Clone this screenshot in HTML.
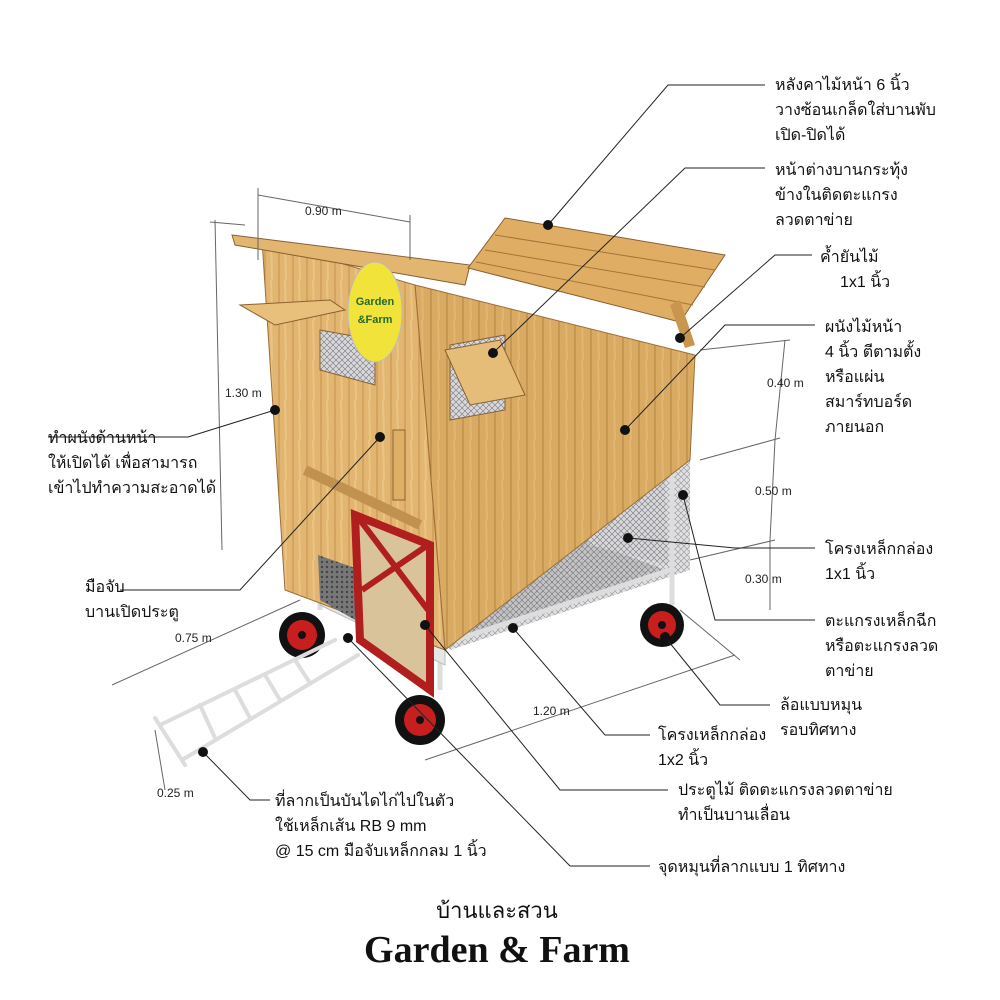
<!DOCTYPE html>
<html><head><meta charset="utf-8">
<style>
html,body{margin:0;padding:0;background:#fff;}
svg{display:block;}
text{font-family:"Liberation Sans","DejaVu Sans",sans-serif;fill:#111;}
.t{font-size:16px;}
.d{font-size:12px;fill:#222;}
</style></head><body>
<svg width="1000" height="1000" viewBox="0 0 1000 1000" xmlns="http://www.w3.org/2000/svg">
<defs>
<pattern id="wood" width="14" height="40" patternUnits="userSpaceOnUse">
<rect width="14" height="40" fill="#e2b670"/>
<line x1="13" y1="0" x2="13" y2="40" stroke="#c39250" stroke-width="1"/>
<line x1="5" y1="0" x2="6" y2="40" stroke="#ebc485" stroke-width="2"/>
</pattern>
<pattern id="wood2" width="16" height="40" patternUnits="userSpaceOnUse">
<rect width="16" height="40" fill="#d9aa62"/>
<line x1="15" y1="0" x2="15" y2="40" stroke="#b28144" stroke-width="1"/>
<line x1="6" y1="0" x2="7" y2="40" stroke="#e2b672" stroke-width="2"/>
</pattern>
<pattern id="mesh" width="6" height="6" patternUnits="userSpaceOnUse">
<rect width="6" height="6" fill="#d8d8dc"/>
<path d="M0 0L6 6M6 0L0 6" stroke="#777" stroke-width="0.6"/>
</pattern>
<pattern id="grav" width="5" height="5" patternUnits="userSpaceOnUse">
<rect width="5" height="5" fill="#777"/><circle cx="2" cy="2" r="1.2" fill="#444"/>
</pattern>
</defs>

<polygon points="320,565 450,640 665,570 560,530" fill="url(#grav)"/>
<polygon points="445,640 690,460 690,570 450,650" fill="url(#mesh)" opacity="0.8"/>
<polygon points="590,520 665,480 668,565 590,545" fill="url(#mesh)"/>
<g stroke="#ddd" stroke-width="5" fill="none">
<line x1="455" y1="640" x2="670" y2="570"/>
<line x1="672" y1="470" x2="672" y2="605"/>
<line x1="320" y1="590" x2="320" y2="610"/>
<line x1="440" y1="650" x2="440" y2="690"/>
</g>
<polygon points="320,590 445,650 445,665 320,605" fill="#e6e6e6" stroke="#bbb"/>

<polygon points="415,285 695,355 690,460 445,650" fill="url(#wood2)" stroke="#9a6e35"/>
<polygon points="262,240 415,285 445,650 285,590" fill="url(#wood)" stroke="#9a6e35"/>
<polygon points="320,330 375,340 375,385 320,370" fill="url(#mesh)" stroke="#8a6030"/>
<polygon points="450,345 505,335 505,410 450,420" fill="url(#mesh)" stroke="#8a6030"/>
<polygon points="445,350 500,340 525,395 470,405" fill="#e6bd78" stroke="#8a6030"/>
<polygon points="318,555 355,568 355,620 320,600" fill="url(#grav)"/>
<polygon points="240,305 330,300 345,310 275,325" fill="#e8c07c" stroke="#8a6030"/>
<line x1="305" y1="470" x2="420" y2="525" stroke="#c1914f" stroke-width="10"/>
<rect x="393" y="430" width="12" height="70" fill="#ddb066" stroke="#8a6030"/>
<polygon points="232,235 470,265 465,285 235,245" fill="#e2b670" stroke="#8a6030"/>
<polygon points="505,218 725,255 680,322 468,268" fill="#dfae64" stroke="#8a6030"/>
<g stroke="#a57538" stroke-width="1">
<line x1="495" y1="235" x2="715" y2="270"/><line x1="485" y1="250" x2="705" y2="287"/><line x1="476" y1="262" x2="693" y2="305"/>
</g>
<polygon points="670,305 680,300 695,345 685,348" fill="#c9964e"/>
<ellipse cx="375" cy="312" rx="27" ry="50" fill="#f2e33b" stroke="#bbb"/>
<text x="375" y="305" text-anchor="middle" style="font-size:11px;font-weight:bold;fill:#236b2a">Garden</text>
<text x="375" y="323" text-anchor="middle" style="font-size:11px;font-weight:bold;fill:#236b2a">&amp;Farm</text>

<polygon points="355,515 430,545 430,690 360,640" fill="#d8c39a" stroke="#b01e1e" stroke-width="8"/>
<line x1="360" y1="520" x2="428" y2="610" stroke="#b01e1e" stroke-width="6"/>
<line x1="428" y1="545" x2="362" y2="590" stroke="#b01e1e" stroke-width="6"/>

<g>
<circle cx="302" cy="635" r="23" fill="#111"/><circle cx="302" cy="635" r="15" fill="#c81e1e"/><circle cx="302" cy="635" r="4" fill="#111"/>
<circle cx="420" cy="720" r="25" fill="#111"/><circle cx="420" cy="720" r="16" fill="#c81e1e"/><circle cx="420" cy="720" r="4" fill="#111"/>
<circle cx="662" cy="625" r="22" fill="#111"/><circle cx="662" cy="625" r="14" fill="#c81e1e"/><circle cx="662" cy="625" r="4" fill="#111"/>
</g>

<g stroke="#ddd" stroke-width="4" stroke-linecap="round">
<line x1="160" y1="725" x2="335" y2="640"/>
<line x1="182" y1="760" x2="358" y2="655"/>
<line x1="155" y1="718" x2="185" y2="765"/>
<line x1="200" y1="705" x2="215" y2="738"/>
<line x1="235" y1="690" x2="250" y2="718"/>
<line x1="265" y1="675" x2="280" y2="700"/>
<line x1="295" y1="660" x2="310" y2="683"/>
</g>

<g stroke="#666" stroke-width="1" fill="none">
<line x1="258" y1="195" x2="410" y2="222"/><line x1="258" y1="188" x2="258" y2="260"/><line x1="410" y1="215" x2="410" y2="260"/>
<line x1="215" y1="220" x2="222" y2="550"/><line x1="210" y1="222" x2="245" y2="225"/>
<line x1="785" y1="340" x2="775" y2="440"/><line x1="700" y1="350" x2="790" y2="340"/>
<line x1="775" y1="440" x2="770" y2="540"/><line x1="700" y1="460" x2="780" y2="438"/>
<line x1="770" y1="540" x2="770" y2="610"/><line x1="690" y1="560" x2="775" y2="540"/>
<line x1="425" y1="760" x2="735" y2="655"/><line x1="680" y1="610" x2="740" y2="660"/>
<line x1="112" y1="685" x2="300" y2="600"/>
<line x1="155" y1="730" x2="165" y2="790"/>
</g>
<text class="d" x="305" y="215">0.90 m</text>
<text class="d" x="225" y="397">1.30 m</text>
<text class="d" x="767" y="387">0.40 m</text>
<text class="d" x="755" y="495">0.50 m</text>
<text class="d" x="745" y="583">0.30 m</text>
<text class="d" x="533" y="715">1.20 m</text>
<text class="d" x="175" y="642">0.75 m</text>
<text class="d" x="157" y="797">0.25 m</text>

<g stroke="#222" stroke-width="1" fill="none">
<polyline points="548,225 668,85 765,85"/>
<polyline points="493,353 685,168 765,168"/>
<polyline points="680,338 775,255 812,255"/>
<polyline points="625,430 725,325 815,325"/>
<polyline points="48,437 188,437 275,410"/>
<polyline points="380,437 240,590 120,590"/>
<polyline points="628,538 735,548 815,548"/>
<polyline points="683,495 715,620 815,620"/>
<polyline points="665,637 720,705 770,705"/>
<polyline points="513,628 605,735 650,735"/>
<polyline points="425,625 560,790 668,790"/>
<polyline points="348,638 570,866 650,866"/>
<polyline points="203,752 250,800 270,800"/>
</g>
<g fill="#111">
<circle cx="548" cy="225" r="5"/><circle cx="493" cy="353" r="5"/><circle cx="680" cy="338" r="5"/>
<circle cx="625" cy="430" r="5"/><circle cx="275" cy="410" r="5"/><circle cx="380" cy="437" r="5"/>
<circle cx="628" cy="538" r="5"/><circle cx="683" cy="495" r="5"/><circle cx="665" cy="637" r="5"/>
<circle cx="513" cy="628" r="5"/><circle cx="425" cy="625" r="5"/><circle cx="348" cy="638" r="5"/>
<circle cx="203" cy="752" r="5"/>
</g>

<text class="t" x="775" y="90">หลังคาไม้หน้า 6 นิ้ว</text>
<text class="t" x="775" y="115">วางซ้อนเกล็ดใส่บานพับ</text>
<text class="t" x="775" y="140">เปิด-ปิดได้</text>
<text class="t" x="775" y="175">หน้าต่างบานกระทุ้ง</text>
<text class="t" x="775" y="200">ข้างในติดตะแกรง</text>
<text class="t" x="775" y="225">ลวดตาข่าย</text>
<text class="t" x="820" y="262">ค้ำยันไม้</text>
<text class="t" x="840" y="287">1x1 นิ้ว</text>
<text class="t" x="825" y="332">ผนังไม้หน้า</text>
<text class="t" x="825" y="357">4 นิ้ว ตีตามตั้ง</text>
<text class="t" x="825" y="382">หรือแผ่น</text>
<text class="t" x="825" y="407">สมาร์ทบอร์ด</text>
<text class="t" x="825" y="432">ภายนอก</text>
<text class="t" x="48" y="443">ทำผนังด้านหน้า</text>
<text class="t" x="48" y="468">ให้เปิดได้ เพื่อสามารถ</text>
<text class="t" x="48" y="493">เข้าไปทำความสะอาดได้</text>
<text class="t" x="85" y="592">มือจับ</text>
<text class="t" x="85" y="617">บานเปิดประตู</text>
<text class="t" x="825" y="554">โครงเหล็กกล่อง</text>
<text class="t" x="825" y="579">1x1 นิ้ว</text>
<text class="t" x="825" y="626">ตะแกรงเหล็กฉีก</text>
<text class="t" x="825" y="651">หรือตะแกรงลวด</text>
<text class="t" x="825" y="676">ตาข่าย</text>
<text class="t" x="780" y="710">ล้อแบบหมุน</text>
<text class="t" x="780" y="735">รอบทิศทาง</text>
<text class="t" x="658" y="740">โครงเหล็กกล่อง</text>
<text class="t" x="658" y="765">1x2 นิ้ว</text>
<text class="t" x="678" y="795">ประตูไม้ ติดตะแกรงลวดตาข่าย</text>
<text class="t" x="678" y="820">ทำเป็นบานเลื่อน</text>
<text class="t" x="658" y="872">จุดหมุนที่ลากแบบ 1 ทิศทาง</text>
<text class="t" x="275" y="806">ที่ลากเป็นบันไดไก่ไปในตัว</text>
<text class="t" x="275" y="831">ใช้เหล็กเส้น RB 9 mm</text>
<text class="t" x="275" y="856">@ 15 cm มือจับเหล็กกลม 1 นิ้ว</text>

<text x="497" y="918" text-anchor="middle" style="font-size:22px;">บ้านและสวน</text>
<text x="497" y="962" text-anchor="middle" style="font-size:38px;font-weight:bold;font-family:'Liberation Serif',serif;">Garden &amp; Farm</text>
</svg>
</body></html>
